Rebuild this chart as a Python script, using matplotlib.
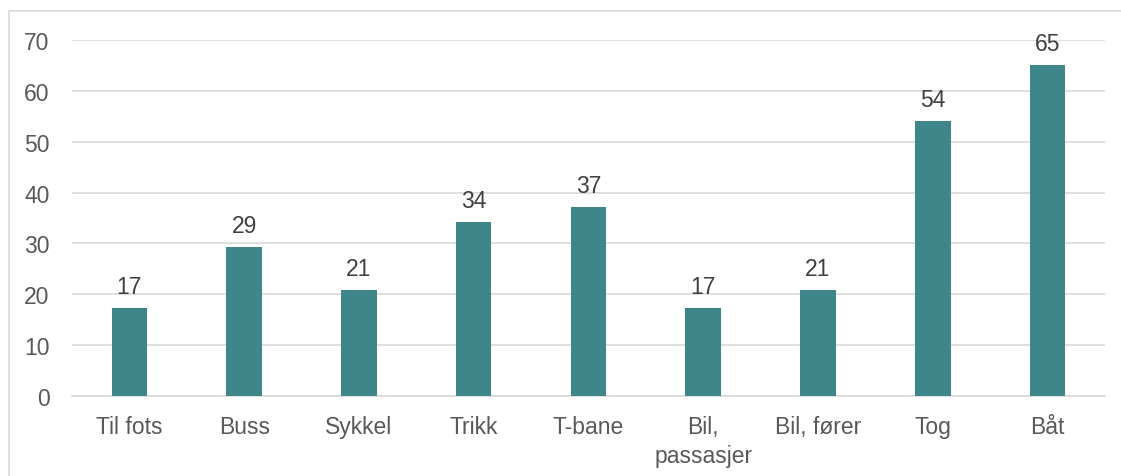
import matplotlib.pyplot as plt
import numpy as np
from matplotlib.patches import Rectangle

plt.rcParams['font.family'] = ['Liberation Sans', 'DejaVu Sans']

categories = ["Til fots", "Buss", "Sykkel", "Trikk", "T-bane", "Bil,\npassasjer", "Bil, fører", "Tog", "Båt"]
values = [17.3, 29.3, 20.8, 34.2, 37.1, 17.3, 20.8, 54.1, 65.1]
labels = ["17", "29", "21", "34", "37", "17", "21", "54", "65"]

bar_color = "#3F868A"
text_color = "#595959"
grid_color = "#D9D9D9"
fs = 16.5

fig = plt.figure(figsize=(11.21, 4.77), dpi=100)
ax = fig.add_axes([0.0642, 0.1677, 0.9215, 0.7463])

x = np.arange(len(categories))
ax.bar(x, values, width=0.31, color=bar_color, zorder=3)
for xi, v, lab in zip(x, values, labels):
    ax.text(xi, v + 2.0, lab, ha="center", va="bottom", fontsize=fs, color="#404040")

ax.set_xlim(-0.5, len(categories) - 0.5)
ax.set_ylim(0, 70)
ax.set_yticks(np.arange(0, 71, 10))
ax.set_xticks(x)
ax.set_xticklabels(categories, fontsize=fs, color=text_color, linespacing=1.3)
ax.tick_params(axis="y", labelsize=fs, labelcolor=text_color, length=0, pad=16)
ax.tick_params(axis="x", length=0, pad=14)
ax.grid(axis="y", color=grid_color, linewidth=1.2, zorder=0)
for s in ["top", "right", "left"]:
    ax.spines[s].set_visible(False)
ax.spines["bottom"].set_color(grid_color)
ax.spines["bottom"].set_linewidth(1.2)

# outer chart border
fig.patches.append(Rectangle((8.5 / 1121, -0.1), 1.2, 1 - 12 / 477 + 0.1, transform=fig.transFigure,
                             fill=False, edgecolor=grid_color, linewidth=1.2))

fig.savefig("out.png", dpi=100)
